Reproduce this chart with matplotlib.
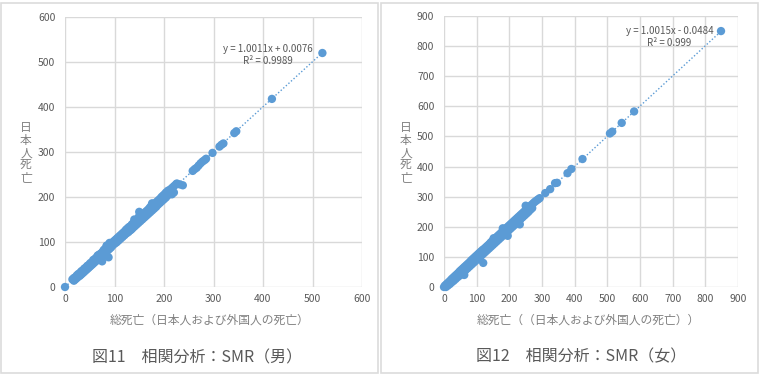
import numpy as np
import matplotlib
matplotlib.use("Agg")
import matplotlib.pyplot as plt
from matplotlib.patches import Rectangle

plt.rcParams['font.family'] = ['Noto Sans CJK JP', 'DejaVu Sans']

# ---- data: 図11 male SMR ----
male_x = [0, 15, 18, 21, 24, 27, 30, 33, 36, 39, 42, 45, 48, 51, 54, 57, 60, 63, 66, 69, 72,
          75, 78, 81, 84, 87, 90, 93, 96, 99, 102, 105, 108, 111, 114, 117, 120, 123, 126, 129,
          132, 135, 138, 141, 144, 147, 150, 153, 156, 159, 162, 165, 168, 171, 174, 177, 180,
          183, 186, 189, 192, 195, 198, 201, 204, 208, 212, 216, 220, 224,
          18, 21, 24, 27, 30, 33, 36, 39, 42, 45, 48, 51, 54, 57, 60, 63, 66, 69, 72, 75, 78,
          81, 84, 87, 90, 93, 96, 100, 104, 108, 112, 116, 120, 124, 128, 132, 136, 140, 144,
          148, 152, 156, 160, 164, 168, 172, 176, 180, 184, 188, 192, 196, 200, 204, 208, 212,
          75, 88, 150, 152, 176, 178, 216, 220, 226, 232, 238, 140, 134, 90, 84,
          258, 262, 266, 270, 274, 278, 282, 285, 298, 312, 316, 320, 342, 346, 418, 520]
male_y = [0, 17, 20, 22, 26, 29, 31, 35, 37, 41, 43, 47, 49, 53, 55, 60, 62, 65, 70, 72, 74,
          77, 82, 85, 88, 92, 94, 96, 99, 102, 105, 108, 111, 114, 117, 120, 123, 127, 130, 133,
          135, 139, 142, 145, 148, 152, 158, 157, 160, 163, 166, 169, 172, 176, 180, 182, 184,
          187, 190, 193, 196, 200, 203, 206, 210, 214, 216, 220, 224, 228,
          14, 17, 20, 23, 25, 28, 31, 34, 37, 40, 43, 46, 49, 52, 55, 58, 61, 64, 67, 70, 73,
          76, 79, 82, 85, 88, 92, 96, 99, 103, 107, 111, 115, 119, 122, 126, 130, 134, 138,
          142, 146, 150, 154, 158, 162, 166, 170, 174, 178, 183, 187, 191, 195, 199, 204, 208,
          57, 66, 167, 160, 186, 183, 206, 210, 230, 228, 226, 150, 128, 98, 92,
          258, 262, 265, 270, 275, 279, 282, 285, 298, 312, 316, 319, 342, 346, 418, 520]

# ---- data: 図12 female SMR ----
female_x = [0, 3, 8, 13, 18, 23, 28, 33, 38, 43, 48, 53, 58, 63, 68, 73, 78, 83, 88, 93, 98,
            103, 108, 113, 118, 123, 128, 133, 138, 143, 148, 153, 158, 163, 168, 173, 178,
            183, 188, 193, 198, 203, 208, 213, 218, 223, 228, 233, 238, 243, 248, 253, 258,
            263, 268, 273, 278, 283, 288, 293,
            6, 12, 18, 24, 30, 36, 42, 48, 54, 60, 66, 72, 78, 84, 90, 96, 102, 108, 114, 120,
            126, 132, 138, 144, 150, 156, 162, 168, 174, 180, 186, 192, 198, 204, 210, 216,
            222, 228, 234, 240, 246, 252, 258, 264, 270,
            62, 120, 195, 232, 250, 152, 160, 190, 180,
            310, 325, 340, 346, 378, 390, 424, 508, 515, 544, 582, 848]
female_y = [0, 5, 10, 15, 20, 26, 31, 36, 41, 46, 52, 57, 62, 67, 72, 77, 82, 88, 93, 98, 103,
            108, 113, 118, 123, 127, 132, 137, 142, 148, 153, 158, 163, 168, 173, 178, 183,
            188, 193, 198, 203, 208, 213, 218, 223, 228, 233, 238, 243, 248, 253, 258, 263,
            268, 273, 278, 283, 287, 291, 295,
            0, 5, 10, 16, 21, 27, 33, 38, 44, 50, 56, 62, 68, 74, 80, 86, 92, 98, 104, 110,
            116, 122, 128, 134, 140, 146, 152, 158, 164, 170, 176, 182, 188, 194, 200, 206,
            212, 218, 225, 231, 237, 243, 249, 256, 262,
            40, 80, 170, 208, 270, 162, 155, 185, 195,
            312, 325, 345, 346, 378, 392, 425, 510, 516, 545, 583, 850]

male_coef = (1.0011, 0.0076)
female_coef = (1.0015, -0.0484)

BLUE = '#5B9BD5'
GRID = '#D9D9D9'
TXT = '#595959'
LBL = '#808080'

fig = plt.figure(figsize=(7.6, 3.75), dpi=100)
W, H = 760, 375


def panel(rect_px, xs, ys, coef, vmax, step, eq, r2, eq_pos, xlabel, ylabel_x, xlabel_pos, caption, cap_pos):
    l, t, r, b = rect_px
    ax = fig.add_axes([l / W, 1 - b / H, (r - l) / W, (b - t) / H])
    ax.set_xlim(0, vmax)
    ax.set_ylim(0, vmax)
    ax.set_xticks(np.arange(0, vmax + 1, step))
    ax.set_yticks(np.arange(0, vmax + 1, step))
    ax.grid(True, color=GRID, linewidth=1.0)
    ax.set_axisbelow(True)
    for s in ax.spines.values():
        s.set_visible(False)
    ax.tick_params(length=0, labelsize=7.5, labelcolor=TXT)
    ax.tick_params(axis='y', pad=7)
    ax.tick_params(axis='x', pad=5)
    ax.scatter(xs, ys, s=36, color=BLUE, edgecolors='none', zorder=3, clip_on=False)
    lx = np.array([min(xs), max(xs)])
    ax.plot(lx, coef[0] * lx + coef[1], linestyle=(0, (1, 1.5)), color=BLUE, linewidth=1.0, zorder=2)
    ax.text(eq_pos[0], eq_pos[1], eq + '\n' + r2, transform=ax.transData, ha='center', va='center',
            fontsize=7, color=TXT, linespacing=1.3, zorder=4)
    fig.text(xlabel_pos[0] / W, 1 - xlabel_pos[1] / H, xlabel, ha='center', va='center',
             fontsize=8.5, color=LBL)
    fig.text(ylabel_x / W, 1 - 153 / H, '日\n本\n人\n死\n亡', ha='center', va='center',
             fontsize=8.5, color=LBL, linespacing=0.95)
    fig.text(cap_pos[0] / W, 1 - cap_pos[1] / H, caption, ha='center', va='center',
             fontsize=11.5, color=TXT)
    return ax


panel((65, 17, 362, 287), male_x, male_y, male_coef, 600, 100,
      'y = 1.0011x + 0.0076', 'R² = 0.9989', (410, 515),
      '総死亡（日本人および外国人の死亡）', 26, (210, 320),
      '図11　相関分析：SMR（男）', (197, 358))

panel((444, 16, 738, 287), female_x, female_y, female_coef, 900, 100,
      'y = 1.0015x - 0.0484', 'R² = 0.999', (690, 830),
      '総死亡（（日本人および外国人の死亡））', 406, (588, 320),
      '図12　相関分析：SMR（女）', (581, 357))

# panel frames
for x0, x1 in [(1, 378), (381, 758)]:
    fig.patches.append(Rectangle((x0 / W, 2 / H), (x1 - x0) / W, (372 - 2) / H,
                                 transform=fig.transFigure, fill=False,
                                 edgecolor='#DCDCDC', linewidth=1.2))

fig.savefig('out.png', dpi=100)
